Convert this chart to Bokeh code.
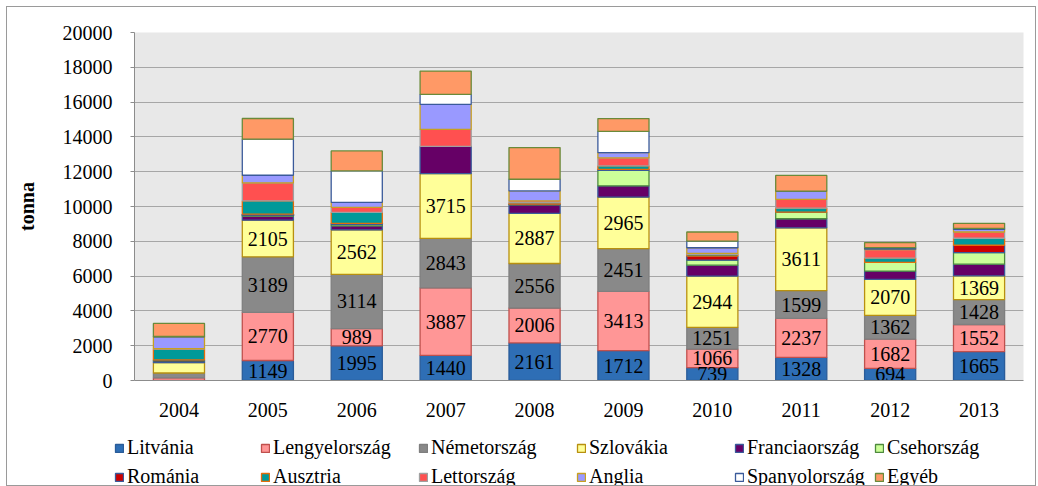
from bokeh.plotting import figure
from bokeh.layouts import column
from bokeh.models import ColumnDataSource, Legend, LegendItem, FixedTicker, Range1d, FactorRange
from bokeh.core.properties import value
from bokeh.embed import file_html
from bokeh.resources import INLINE

years = ["2004", "2005", "2006", "2007", "2008", "2009", "2010", "2011", "2012", "2013"]

litvania = [0, 1149, 1995, 1440, 2161, 1712, 739, 1328, 694, 1665]
lengyelorszag = [150, 2770, 989, 3887, 2006, 3413, 1066, 2237, 1682, 1552]
nemetorszag = [280, 3189, 3114, 2843, 2556, 2451, 1251, 1599, 1362, 1428]
szlovakia = [600, 2105, 2562, 3715, 2887, 2965, 2944, 3611, 2070, 1369]
franciaorszag = [100, 230, 230, 1570, 480, 650, 630, 520, 480, 670]
csehorszag = [50, 57, 80, 0, 30, 880, 290, 380, 500, 670]
romania = [0, 57, 60, 0, 20, 60, 230, 0, 0, 420]
ausztria = [620, 765, 630, 0, 80, 200, 100, 230, 250, 400]
lettorszag = [30, 1035, 290, 978, 100, 460, 60, 500, 480, 360]
anglia = [680, 440, 290, 1437, 575, 305, 320, 480, 40, 150]
spanyolorszag = [20, 2070, 1805, 575, 670, 1225, 385, 0, 80, 60]
egyeb = [750, 1190, 1150, 1340, 1820, 730, 520, 900, 290, 290]

series_names = ["Litvánia", "Lengyelország", "Németország", "Szlovákia", "Franciaország",
                "Csehország", "Románia", "Ausztria", "Lettország", "Anglia",
                "Spanyolország", "Egyéb"]
series_values = [litvania, lengyelorszag, nemetorszag, szlovakia, franciaorszag, csehorszag,
                 romania, ausztria, lettorszag, anglia, spanyolorszag, egyeb]
labeled_series = 4          # first four series carry value labels
labeled_years = years[1:]   # 2004 has no labels

fill_colors = ["#2E6EB5", "#FF9696", "#898989", "#FFFF99", "#660066", "#CCFF99",
               "#CC0000", "#009999", "#FF5050", "#9999FF", "#FFFFFF", "#FF9966"]
line_colors = ["#2A5C99", "#C0504D", "#7F7F7F", "#B8900F", "#3A5A9A", "#4E8A3E",
               "#3A5A9A", "#E46C0A", "#A0A0A0", "#C8A020", "#3A5A9A", "#6A8A3A"]

keys = ["s%d" % i for i in range(len(series_names))]
data = {"year": years}
for k, v in zip(keys, series_values):
    data[k] = v
source = ColumnDataSource(data)

FONT = value("Liberation Serif")
W = 1028

p = figure(x_range=FactorRange(*years), y_range=Range1d(0, 20000),
           frame_width=889, frame_height=348,
           min_border_left=127, min_border_top=25, min_border_right=12, min_border_bottom=50,
           output_backend="svg", toolbar_location=None,
           background_fill_color="#E8E8E8", border_fill_color="white")
p.outline_line_color = None

renderers = p.vbar_stack(keys, x="year", width=0.575, source=source,
                         fill_color=fill_colors, line_color=line_colors, line_width=1.3)

# value labels
lx, ly, lt = [], [], []
for j, yr in enumerate(years):
    base = 0
    for i in range(labeled_series):
        v = series_values[i][j]
        if yr in labeled_years:
            lx.append(yr)
            ly.append(base + v / 2)
            lt.append(str(v))
        base += v
p.text(x=lx, y=ly, text=lt, text_align="center", text_baseline="middle",
       text_font=FONT, text_font_size="20px", text_color="black")

# axes
p.yaxis.ticker = FixedTicker(ticks=list(range(0, 20001, 2000)))
p.yaxis.axis_label = "tonna"
p.yaxis.axis_label_text_font = "Liberation Serif"
p.yaxis.axis_label_text_font_size = "20px"
p.yaxis.axis_label_text_font_style = "bold"
p.yaxis.axis_label_text_color = "black"
p.yaxis.axis_label_standoff = 22
p.yaxis.major_label_text_font = "Liberation Serif"
p.yaxis.major_label_text_font_size = "20px"
p.yaxis.major_label_text_color = "black"
p.yaxis.major_label_standoff = 18
p.yaxis.major_tick_out = 4
p.yaxis.major_tick_in = 0
p.yaxis.minor_tick_line_color = None
p.yaxis.axis_line_color = "#8C8C8C"
p.yaxis.major_tick_line_color = "#8C8C8C"

p.xaxis.major_label_text_font = "Liberation Serif"
p.xaxis.major_label_text_font_size = "20px"
p.xaxis.major_label_text_color = "black"
p.xaxis.major_label_standoff = 16
p.xaxis.major_tick_line_color = None
p.xaxis.axis_line_color = "#8C8C8C"

p.xgrid.grid_line_color = None
p.ygrid.grid_line_color = "#A6A6A6"
p.ygrid.grid_line_width = 1.2

# legend strip (separate figure, six two-row columns)
LH = 55
lf = figure(x_range=Range1d(0, W), y_range=Range1d(0, LH), frame_width=W, frame_height=LH,
            min_border=0, output_backend="svg", toolbar_location=None,
            border_fill_color="white", background_fill_color="white")
lf.axis.visible = False
lf.grid.visible = False
lf.outline_line_color = None

# legend proxies: one off-screen square per series so the legend swatches are drawn
proxies = []
for fc, lc in zip(fill_colors, line_colors):
    proxies.append(lf.rect(x=[-1000], y=[1], width=1, height=1,
                           fill_color=fc, line_color=lc, line_width=1.3))

col_x = [107, 253, 411, 569, 727, 867]
for c, x0 in enumerate(col_x):
    idx = [c, c + 6]
    lg = Legend(items=[LegendItem(label=series_names[i], renderers=[proxies[i]]) for i in idx],
                orientation="vertical", location=(x0, -3),
                label_text_font="Liberation Serif", label_text_font_size="20px",
                label_text_color="black",
                glyph_width=10, glyph_height=10, label_standoff=3, spacing=6,
                padding=0, margin=0, border_line_alpha=0, background_fill_alpha=0,
                label_height=22)
    lf.add_layout(lg, "center")

layout = column(p, lf, spacing=0,
                styles={"border": "1px solid #9A9A9A", "margin-left": "6px", "margin-top": "6px"})

open("out.html", "w").write(file_html(layout, INLINE))
